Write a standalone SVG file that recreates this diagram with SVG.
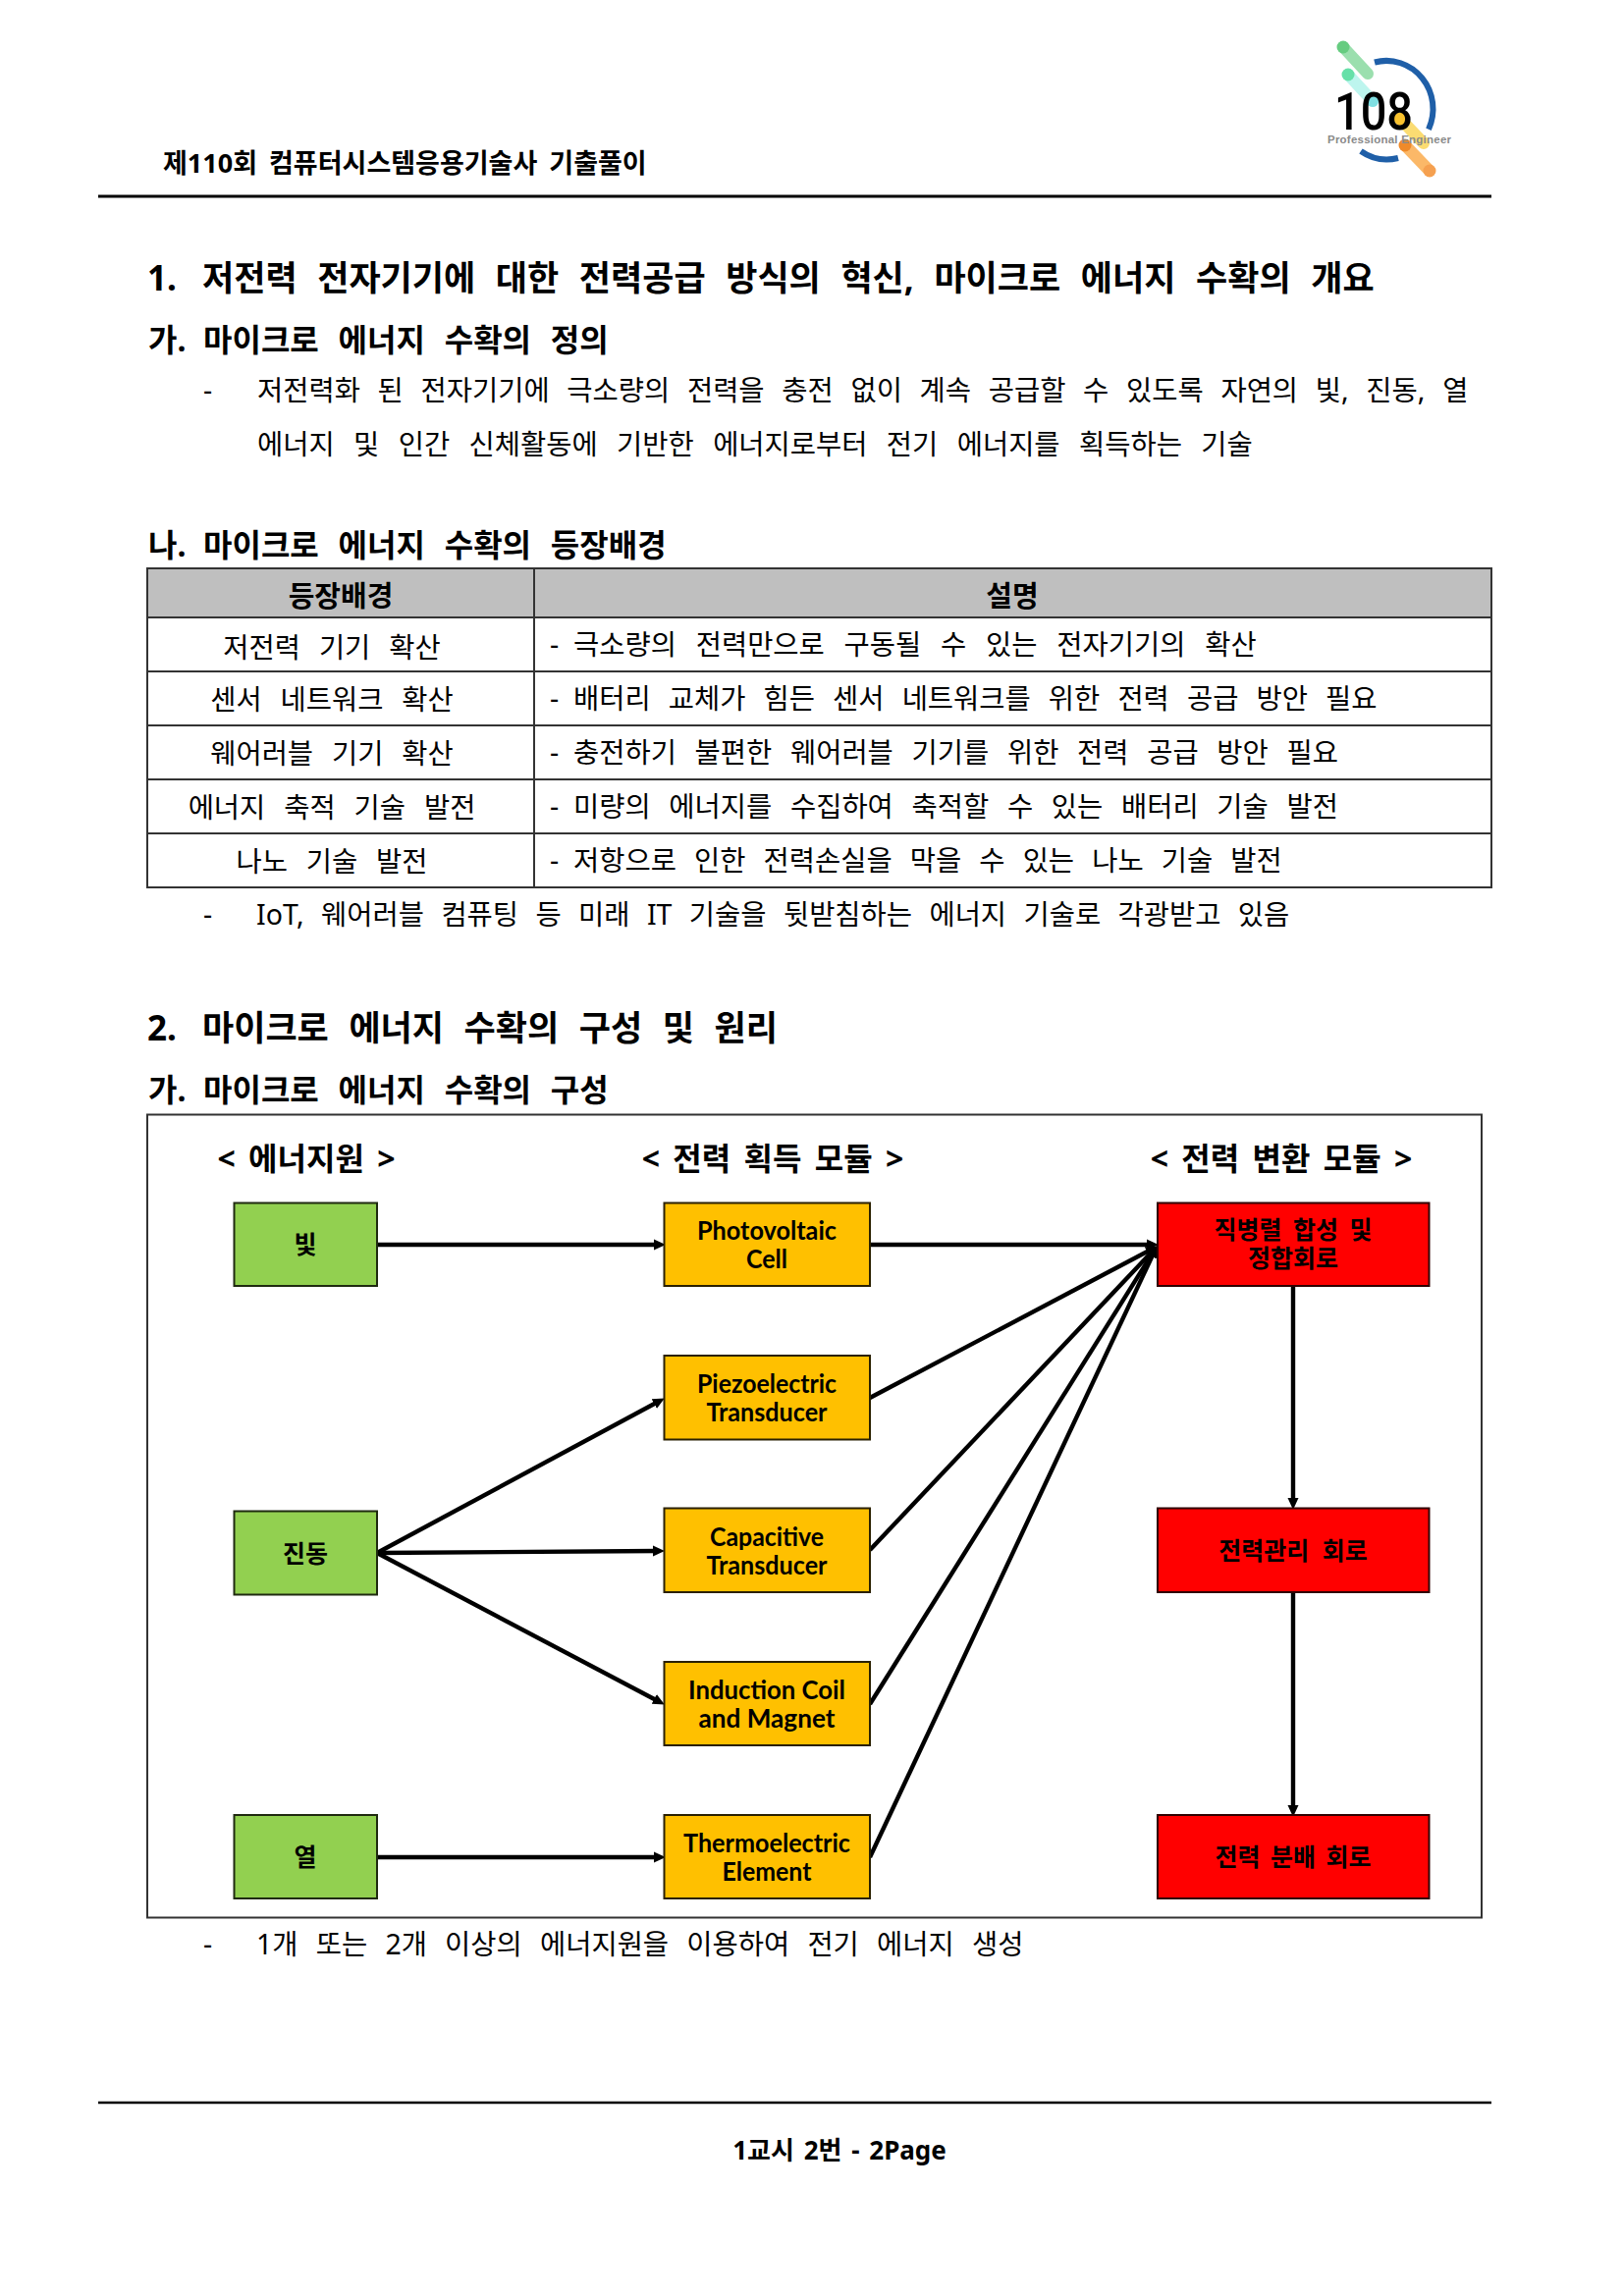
<svg xmlns="http://www.w3.org/2000/svg" width="1653" height="2339" viewBox="0 0 1653 2339">
<style>
text{font-family:"Noto Sans","Noto Sans CJK KR",sans-serif;fill:#000}
.hd{font-size:27px;font-weight:700;word-spacing:5px}
.t1{font-size:35px;font-weight:700;word-spacing:11.5px}
.t2{font-size:32px;font-weight:700;word-spacing:11.5px}
.b{font-size:28.5px;word-spacing:11px}
.th{font-size:29px;font-weight:700;text-anchor:middle}
.td{font-size:28.5px;text-anchor:middle;word-spacing:11.5px}
.col{font-size:32px;font-weight:700;text-anchor:middle;word-spacing:5px}
.n{font-size:25px;font-weight:700;text-anchor:middle}
.l{font-family:Lato,"Noto Sans",sans-serif;font-size:26px}
.gr{fill:#92d050;stroke:#1f2a10;stroke-width:2}
.or{fill:#ffc000;stroke:#2a2000;stroke-width:2}
.re{fill:#ff0000;stroke:#300000;stroke-width:2}
.rule{stroke:#000;fill:none}
.cell{stroke:#333;stroke-width:2;fill:none}
.ln{stroke:#000;stroke-width:4.4;fill:none;marker-end:url(#ah)}
</style>
<defs>
<marker id="ah" markerUnits="userSpaceOnUse" markerWidth="13" markerHeight="13" refX="5" refY="6.5" orient="auto"><path d="M0 1 L12 6.5 L0 12 Z" fill="#000"/></marker>
</defs>
<rect width="1653" height="2339" fill="#fff"/>

<g id="logo">
<path d="M1368 48 L1393 75" stroke="#9bdfae" stroke-width="12" stroke-linecap="round" fill="none"/>
<path d="M1373 76 L1398 103" stroke="#bdf5ee" stroke-width="12" stroke-linecap="round" fill="none"/>
<circle cx="1368" cy="48" r="6.5" fill="#66cc80"/>
<circle cx="1373" cy="76" r="6.5" fill="#66e0a8"/>
<circle cx="1398" cy="103" r="6" fill="#7fdfe2"/>
<path d="M1400 63.5 A47.5 49 0 0 1 1455 131.7 M1386 154 A47.5 49 0 0 0 1424 161" stroke="#1f5fa8" stroke-width="6" fill="none"/>
<path d="M1426 121 L1450 146" stroke="#fbdc72" stroke-width="12" stroke-linecap="round" fill="none"/>
<path d="M1431 148 L1456 174" stroke="#fbb868" stroke-width="12" stroke-linecap="round" fill="none"/>
<circle cx="1426" cy="121" r="6.5" fill="#f9c22e"/>
<circle cx="1431" cy="148" r="6.5" fill="#ef8a2a"/>
<circle cx="1456" cy="174" r="6.5" fill="#f5a050"/>
<text x="1359" y="131.5" textLength="80" lengthAdjust="spacingAndGlyphs" style="font-family:Roboto,sans-serif;font-size:54px;font-weight:500">108</text>
<text x="1352" y="146" textLength="126" lengthAdjust="spacing" style="font-family:'Liberation Sans',sans-serif;font-size:11.5px;font-weight:700;fill:#8a8a8a">Professional Engineer</text>
</g>

<g id="page-text">
<text class="hd" x="166" y="176">제110회 컴퓨터시스템응용기술사 기출풀이</text>
<path class="rule" stroke-width="3" d="M100 200 H1519"/>
<text class="t1" y="296"><tspan x="150">1.</tspan><tspan x="206">저전력 전자기기에 대한 전력공급 방식의 혁신, 마이크로 에너지 수확의 개요</tspan></text>
<text class="t2" y="358"><tspan x="151">가.</tspan><tspan x="207">마이크로 에너지 수확의 정의</tspan></text>
<text class="b" y="408"><tspan x="207">-</tspan><tspan x="262" style="word-spacing:10.3px">저전력화 된 전자기기에 극소량의 전력을 충전 없이 계속 공급할 수 있도록 자연의 빛, 진동, 열</tspan></text>
<text class="b" x="262" y="463" style="word-spacing:12px">에너지 및 인간 신체활동에 기반한 에너지로부터 전기 에너지를 획득하는 기술</text>
<text class="t2" y="567"><tspan x="151">나.</tspan><tspan x="207">마이크로 에너지 수확의 등장배경</tspan></text>
<text class="b" y="942"><tspan x="207">-</tspan><tspan x="261" style="word-spacing:10px">IoT, 웨어러블 컴퓨팅 등 미래 IT 기술을 뒷받침하는 에너지 기술로 각광받고 있음</tspan></text>
<text class="t1" y="1060"><tspan x="150">2.</tspan><tspan x="206">마이크로 에너지 수확의 구성 및 원리</tspan></text>
<text class="t2" y="1122"><tspan x="151">가.</tspan><tspan x="207">마이크로 에너지 수확의 구성</tspan></text>
<text class="b" y="1991"><tspan x="207">-</tspan><tspan x="261" style="word-spacing:10.8px">1개 또는 2개 이상의 에너지원을 이용하여 전기 에너지 생성</tspan></text>
<path class="rule" stroke-width="2.5" d="M100 2142 H1519"/>
<text class="hd" x="855" y="2200" text-anchor="middle" style="font-size:26px;word-spacing:3px">1교시 2번 - 2Page</text>
</g>

<g id="table">
<rect x="150" y="579" width="1369" height="50" fill="#bfbfbf"/>
<path class="cell" d="M150 579 H1519 V904 H150 Z M150 629 H1519 M150 684 H1519 M150 739 H1519 M150 794 H1519 M150 849 H1519 M544 579 V904"/>
<text class="th" x="347" y="617.5">등장배경</text>
<text class="th" x="1031" y="617.5">설명</text>
<text class="td" x="338" y="670">저전력 기기 확산</text>
<text class="td" x="338" y="723">센서 네트워크 확산</text>
<text class="td" x="338" y="778">웨어러블 기기 확산</text>
<text class="td" x="338" y="833">에너지 축적 기술 발전</text>
<text class="td" x="338" y="888">나노 기술 발전</text>
<text class="b" y="667"><tspan x="560">-</tspan><tspan x="584" style="word-spacing:12.4px">극소량의 전력만으로 구동될 수 있는 전자기기의 확산</tspan></text>
<text class="b" y="722"><tspan x="560">-</tspan><tspan x="584" style="word-spacing:10.7px">배터리 교체가 힘든 센서 네트워크를 위한 전력 공급 방안 필요</tspan></text>
<text class="b" y="777"><tspan x="560">-</tspan><tspan x="584" style="word-spacing:11.3px">충전하기 불편한 웨어러블 기기를 위한 전력 공급 방안 필요</tspan></text>
<text class="b" y="832"><tspan x="560">-</tspan><tspan x="584" style="word-spacing:11.3px">미량의 에너지를 수집하여 축적할 수 있는 배터리 기술 발전</tspan></text>
<text class="b" y="887"><tspan x="560">-</tspan><tspan x="584" style="word-spacing:10.7px">저항으로 인한 전력손실을 막을 수 있는 나노 기술 발전</tspan></text>
</g>

<rect id="frame" x="150" y="1135.5" width="1359" height="818" fill="none" stroke="#333" stroke-width="2"/>
<g id="column-titles">
<text class="col" x="312" y="1192">&lt; 에너지원 &gt;</text>
<text class="col" x="787" y="1192">&lt; 전력 획득 모듈 &gt;</text>
<text class="col" x="1305" y="1192">&lt; 전력 변환 모듈 &gt;</text>
</g>

<g id="connectors">
<path class="ln" d="M384 1268 H671"/>
<path class="ln" d="M886 1268 H1173"/>
<path class="ln" d="M384 1582 L670.7 1427.8"/>
<path class="ln" d="M384 1582 L670 1580"/>
<path class="ln" d="M384 1582 L670.7 1733.2"/>
<path class="ln" d="M384 1892 H671"/>
<path class="ln" d="M886 1424 L1172.7 1272.8"/>
<path class="ln" d="M886 1579 L1173.9 1274.4"/>
<path class="ln" d="M886 1736 L1174.8 1275.1"/>
<path class="ln" d="M886 1892 L1175.5 1275.4"/>
<path class="ln" d="M1317 1310 V1531"/>
<path class="ln" d="M1317 1622 V1844"/>
</g>

<g id="src-light"><rect class="gr" x="238.5" y="1225.5" width="145.5" height="84.5"/><text class="n" x="311" y="1277">빛</text></g>
<g id="src-vibration"><rect class="gr" x="238.5" y="1539.5" width="145.5" height="85"/><text class="n" x="311" y="1592">진동</text></g>
<g id="src-heat"><rect class="gr" x="238.5" y="1849" width="145.5" height="85"/><text class="n" x="311" y="1901">열</text></g>

<g id="mod-pv"><rect class="or" x="676.5" y="1225.5" width="209.5" height="84.5"/><text class="n l" x="781" y="1263" textLength="142" lengthAdjust="spacingAndGlyphs">Photovoltaic</text><text class="n l" x="781" y="1292" textLength="42" lengthAdjust="spacingAndGlyphs">Cell</text></g>
<g id="mod-piezo"><rect class="or" x="676.5" y="1381" width="209.5" height="85.5"/><text class="n l" x="781" y="1419" textLength="142" lengthAdjust="spacingAndGlyphs">Piezoelectric</text><text class="n l" x="781" y="1448" textLength="123" lengthAdjust="spacingAndGlyphs">Transducer</text></g>
<g id="mod-cap"><rect class="or" x="676.5" y="1536.5" width="209.5" height="85.5"/><text class="n l" x="781" y="1575" textLength="116" lengthAdjust="spacingAndGlyphs">Capacitive</text><text class="n l" x="781" y="1604" textLength="123" lengthAdjust="spacingAndGlyphs">Transducer</text></g>
<g id="mod-ind"><rect class="or" x="676.5" y="1693" width="209.5" height="85"/><text class="n l" x="781" y="1731" textLength="160" lengthAdjust="spacingAndGlyphs">Induction Coil</text><text class="n l" x="781" y="1760" textLength="139" lengthAdjust="spacingAndGlyphs">and Magnet</text></g>
<g id="mod-thermo"><rect class="or" x="676.5" y="1849" width="209.5" height="85"/><text class="n l" x="781" y="1887" textLength="170" lengthAdjust="spacingAndGlyphs">Thermoelectric</text><text class="n l" x="781" y="1916" textLength="91" lengthAdjust="spacingAndGlyphs">Element</text></g>

<g id="cv-match"><rect class="re" x="1179" y="1225.5" width="276.5" height="84.5"/><text class="n" x="1317" y="1262" style="word-spacing:5px">직병렬 합성 및</text><text class="n" x="1317" y="1291">정합회로</text></g>
<g id="cv-mgmt"><rect class="re" x="1179" y="1536.5" width="276.5" height="85.5"/><text class="n" x="1317" y="1589" style="word-spacing:7px">전력관리 회로</text></g>
<g id="cv-dist"><rect class="re" x="1179" y="1849" width="276.5" height="85"/><text class="n" x="1317" y="1901" style="word-spacing:4px">전력 분배 회로</text></g>
</svg>
